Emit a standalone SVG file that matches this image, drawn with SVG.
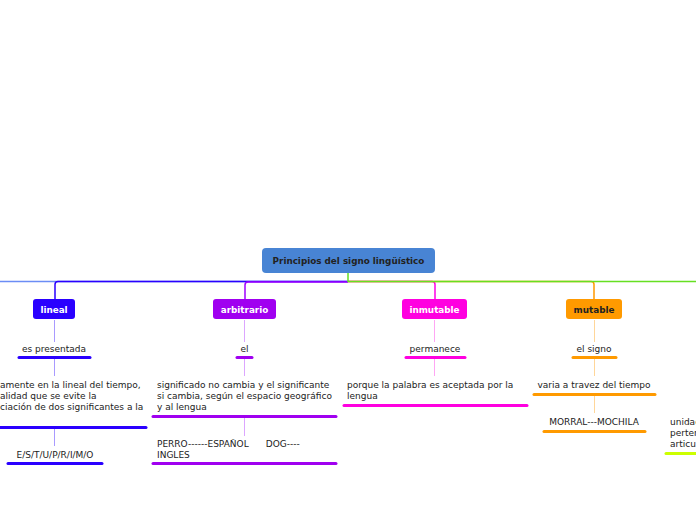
<svg xmlns="http://www.w3.org/2000/svg" width="696" height="520" viewBox="0 0 696 520">
<style>
text{font-family:"DejaVu Sans","Verdana",sans-serif;font-size:9px;fill:#222}
.b{font-weight:bold;font-size:8.8px}
.w{fill:#fff}
.c{text-anchor:middle}
.ln{fill:none;stroke-width:1.5}
.ul{stroke-width:3;stroke-linecap:round;fill:none}
</style>
<rect width="696" height="520" fill="#fff"/>
<g id="connectors">
<path class="ln" stroke="#6b8df5" d="M348 281.5H0"/>
<path class="ln" stroke="#2a00ff" d="M348 281.5H58q-3 0-3 3V299"/>
<path class="ln" stroke="#a000ff" d="M348 282H248q-3 0-3 3V299"/>
<path class="ln" stroke="#ff00e6" d="M348 281.5H432q3 0 3 3V299"/>
<path class="ln" stroke="#ff9900" d="M348 281.5H591q3 0 3 3V299"/>
<path class="ln" stroke="#66e022" d="M348 273V281.5H696"/>
<g stroke-width="1" fill="none">
<path stroke="#a99aff" d="M54.5 320V342M54.5 359V376M54.5 429V446"/>
<path stroke="#dca6ff" d="M244.5 320V342M244.5 359V376M244.5 418V436"/>
<path stroke="#ffa6f4" d="M434.5 320V342M434.5 359V376"/>
<path stroke="#ffd699" d="M594.5 320V342M594.5 359V376M594.5 396V413"/>
</g>
</g>
<g id="root">
<rect x="262" y="248" width="173" height="25" rx="4" fill="#4884d4"/>
<text class="b c" x="348.5" y="264">Principios del signo lingüístico</text>
</g>
<g id="lineal">
<rect x="33" y="299" width="42" height="20" rx="3" fill="#2a00ff"/>
<text class="b c w" x="54" y="313">lineal</text>
</g>
<g id="arbitrario">
<rect x="213" y="299" width="63" height="20" rx="3" fill="#a000f0"/>
<text class="b c w" x="244.5" y="313">arbitrario</text>
</g>
<g id="inmutable">
<rect x="402" y="299" width="65" height="20" rx="3" fill="#ff00e0"/>
<text class="b c w" x="434.5" y="313">inmutable</text>
</g>
<g id="mutable">
<rect x="566" y="299" width="56" height="20" rx="3" fill="#ff9a00"/>
<text class="b c" x="594" y="313">mutable</text>
</g>
<g id="es-presentada">
<text class="c" x="54" y="352">es presentada</text>
<path class="ul" stroke="#2a00ff" d="M19 357.5H90"/>
</g>
<g id="lineal-desc">
<text x="0" y="388">amente en la lineal del tiempo,</text>
<text x="0" y="399">alidad que se evite la</text>
<text x="0" y="410">ciación de dos significantes a la</text>
<path class="ul" stroke="#2a00ff" d="M0 427.5H146"/>
</g>
<g id="estuprimo">
<text class="c" x="55" y="458">E/S/T/U/P/R/I/M/O</text>
<path class="ul" stroke="#2a00ff" d="M8 463.5H102"/>
</g>
<g id="el">
<text class="c" x="244.5" y="352">el</text>
<path class="ul" stroke="#a000f0" d="M237 357.5H252"/>
</g>
<g id="significado">
<text x="157" y="388">significado no cambia y el significante</text>
<text x="157" y="399">si cambia, según el espacio geográfico</text>
<text x="157" y="410">y al lengua</text>
<path class="ul" stroke="#a000f0" d="M153 416.5H336"/>
</g>
<g id="perro">
<text x="157" y="447" xml:space="preserve">PERRO------ESPAÑOL      DOG----</text>
<text x="157" y="458">INGLES</text>
<path class="ul" stroke="#a000f0" d="M153 463.5H336"/>
</g>
<g id="permanece">
<text class="c" x="435" y="352">permanece</text>
<path class="ul" stroke="#ff00e0" d="M406 357.5H465"/>
</g>
<g id="porque">
<text x="347" y="388">porque la palabra es aceptada por la</text>
<text x="347" y="399">lengua</text>
<path class="ul" stroke="#ff00e0" d="M344 405.5H527"/>
</g>
<g id="el-signo">
<text class="c" x="594" y="352">el signo</text>
<path class="ul" stroke="#ff9a00" d="M573 357.5H616"/>
</g>
<g id="varia">
<text class="c" x="594" y="388">varia a travez del tiempo</text>
<path class="ul" stroke="#ff9a00" d="M534 394.5H655"/>
</g>
<g id="morral">
<text class="c" x="594" y="425">MORRAL---MOCHILA</text>
<path class="ul" stroke="#ff9a00" d="M544 431.5H645"/>
</g>
<g id="unidad">
<text x="670" y="425">unidad</text>
<text x="670" y="436">perten</text>
<text x="670" y="447">articu</text>
<path class="ul" stroke="#ccff00" d="M666 453.5H696"/>
</g>
</svg>
